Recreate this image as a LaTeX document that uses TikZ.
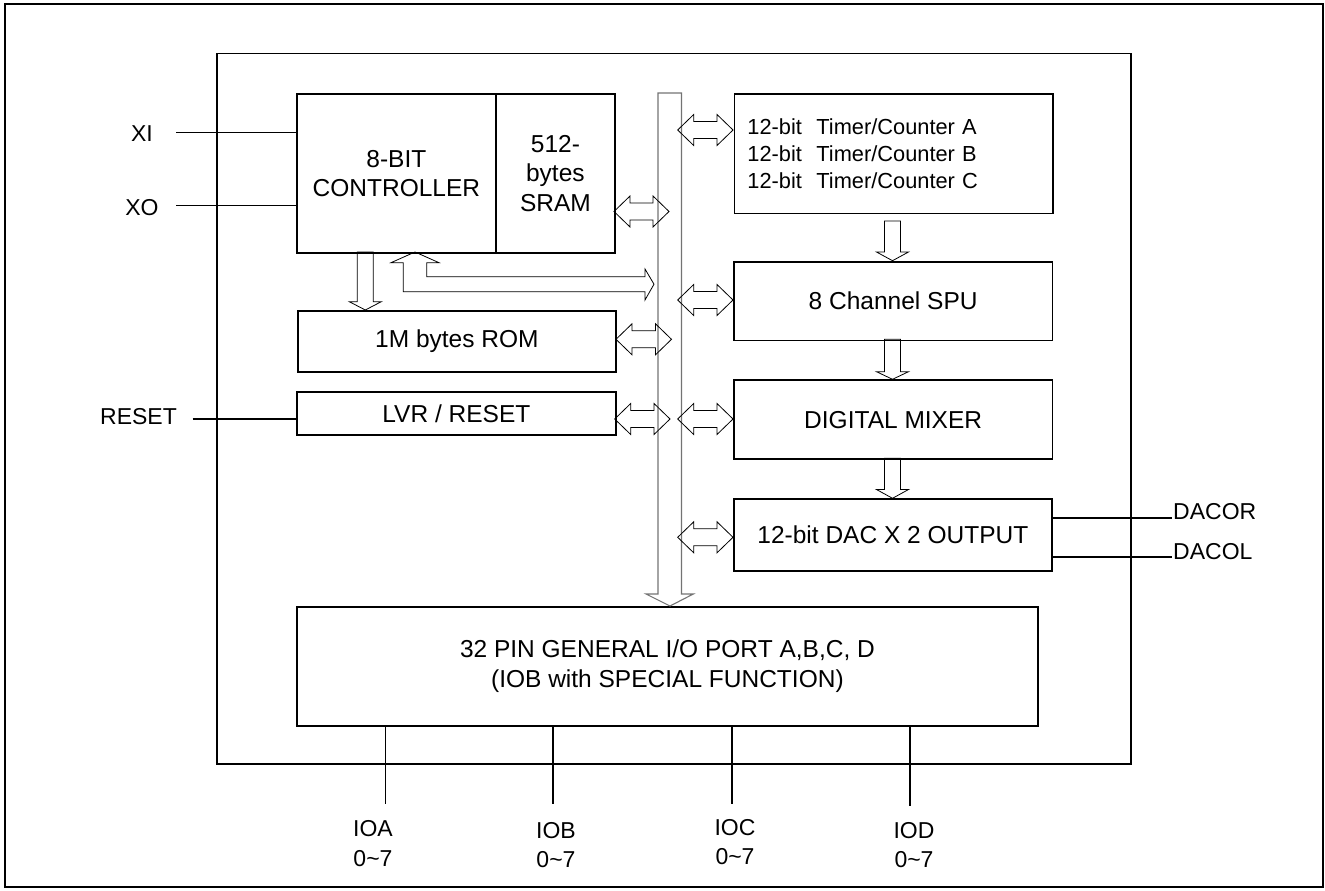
\documentclass[tikz,border=0pt]{standalone}
\usepackage{fontspec}
\setmainfont{Liberation Sans}
\newcommand\harrow[3]{\draw[hollow] (#1,#3) -- (#1+16,#3-15.5) -- (#1+16,#3-8.5) -- (#2-16,#3-8.5) -- (#2-16,#3-15.5) -- (#2,#3) -- (#2-16,#3+15.5) -- (#2-16,#3+8.5) -- (#1+16,#3+8.5) -- (#1+16,#3+15.5) -- cycle;}
\newcommand\varrow[4]{\draw[hollow] (#1-8,#2) -- (#1+8,#2) -- (#1+8,#3) -- (#1+16,#3) -- (#1,#4) -- (#1-16,#3) -- (#1-8,#3) -- cycle;}
\begin{document}
\begin{tikzpicture}[x=1pt,y=-1pt,
  box/.style={draw,line width=1.8pt,anchor=north west,inner sep=0pt,align=center,
    font=\fontsize{24.5}{29.5}\selectfont},
  lbl/.style={inner sep=0pt,align=center,font=\fontsize{23}{29.5}\selectfont},
  wire/.style={line width=1.6pt},
  hollow/.style={draw,line width=0.8pt,line join=miter},
  bus/.style={draw=black!55,line width=1.1pt}]
\useasboundingbox (0,0) rectangle (1325,891);
% frames
\draw[line width=2pt] (4.5,4.5) rectangle (1322.5,887);
\draw[line width=1.6pt] (217,53.5) rectangle (1131,764);
% blocks
\node[box,minimum width=199,minimum height=159] (ctrl) at (296,93) {8-BIT\\CONTROLLER};
\node[box,minimum width=119,minimum height=159] (sram) at (495,93) {512-\\bytes\\SRAM};
\node[box,minimum width=318,minimum height=61] (rom) at (297,310) {1M bytes ROM};
\node[box,minimum width=319,minimum height=43] (lvr) at (296,391) {LVR / RESET};
\node[box,minimum height=119.5,text width=292.5,inner xsep=13,align=left,
  font=\fontsize{21.8}{27}\selectfont] (timer) at (733.5,93) {12-bit\ \ Timer/Counter A\\12-bit\ \ Timer/Counter B\\12-bit\ \ Timer/Counter C};
\node[box,minimum width=318.5,minimum height=78.5] (spu) at (733,261) {8 Channel SPU};
\node[box,minimum width=318.5,minimum height=79] (mix) at (733,379.3) {DIGITAL MIXER};
\node[box,minimum width=318,minimum height=72] (dac) at (733,498.3) {12-bit DAC X 2 OUTPUT};
\node[box,minimum width=741,minimum height=119] (io) at (296,606) {32 PIN GENERAL I/O PORT A,B,C, D\\(IOB with SPECIAL FUNCTION)};
% bus
\draw[bus,line join=miter] (658,93) -- (681.5,93) -- (681.5,594) -- (693.3,594) -- (670,606) -- (646,594) -- (658,594) -- cycle;
% bus arrows
\harrow{614}{669}{211.5}
\harrow{616}{671.5}{339.3}
\harrow{614.7}{670}{419}
\harrow{677.7}{733}{130}
\harrow{677.7}{733}{300}
\harrow{677.7}{733}{419}
\harrow{677.7}{733}{537.3}
% down arrows
\varrow{365.3}{252}{301.7}{310}
\varrow{892.5}{221}{252}{260.7}
\varrow{892.5}{339.3}{371.7}{379.3}
\varrow{892.5}{458.3}{489.5}{498.3}
% L arrow controller -> bus
\draw[hollow] (415,252) -- (439,262.7) -- (426.7,262.7) -- (426.7,276.7) -- (645,276.7) -- (645,269) -- (654,284.2) -- (645,300) -- (645,291.7) -- (403.3,291.7) -- (403.3,262.7) -- (391,262.7) -- cycle;
% external pins
\node[lbl] (xi) at (142,133.5) {XI};
\node[lbl] (xo) at (142,208) {XO};
\node[lbl] (rst) at (138.5,417) {RESET};
\node[lbl,anchor=west] (dacor) at (1173,512) {DACOR};
\node[lbl,anchor=west] (dacol) at (1173,552) {DACOL};
\coordinate (xiE) at (176,132.3);
\coordinate (xoE) at (176,205.5);
\coordinate (rstE) at (192.7,418.7);
\draw[wire] (xiE) -- (xiE -| ctrl.west);
\draw[wire] (xoE) -- (xoE -| ctrl.west);
\draw[wire] (rstE) -- (rstE -| lvr.west);
\coordinate (dorE) at (1172,517.7);
\coordinate (dolE) at (1172,557);
\draw[wire] (dorE -| dac.east) -- (dorE);
\draw[wire] (dolE -| dac.east) -- (dolE);
% io pins
\coordinate (pa) at (385.3,804);
\coordinate (pb) at (552.7,804);
\coordinate (pc) at (731.7,804);
\coordinate (pd) at (910,806);
\draw[wire] (pa |- io.south) -- (pa);
\draw[wire] (pb |- io.south) -- (pb);
\draw[wire] (pc |- io.south) -- (pc);
\draw[wire] (pd |- io.south) -- (pd);
\node[lbl,anchor=base] (ioa) at (373,866.2) {IOA\\0\char`~7};
\node[lbl,anchor=base] (iob) at (556,867.5) {IOB\\0\char`~7};
\node[lbl,anchor=base] (ioc) at (735,864.5) {IOC\\0\char`~7};
\node[lbl,anchor=base] (iod) at (914,867.8) {IOD\\0\char`~7};
\end{tikzpicture}
\end{document}
